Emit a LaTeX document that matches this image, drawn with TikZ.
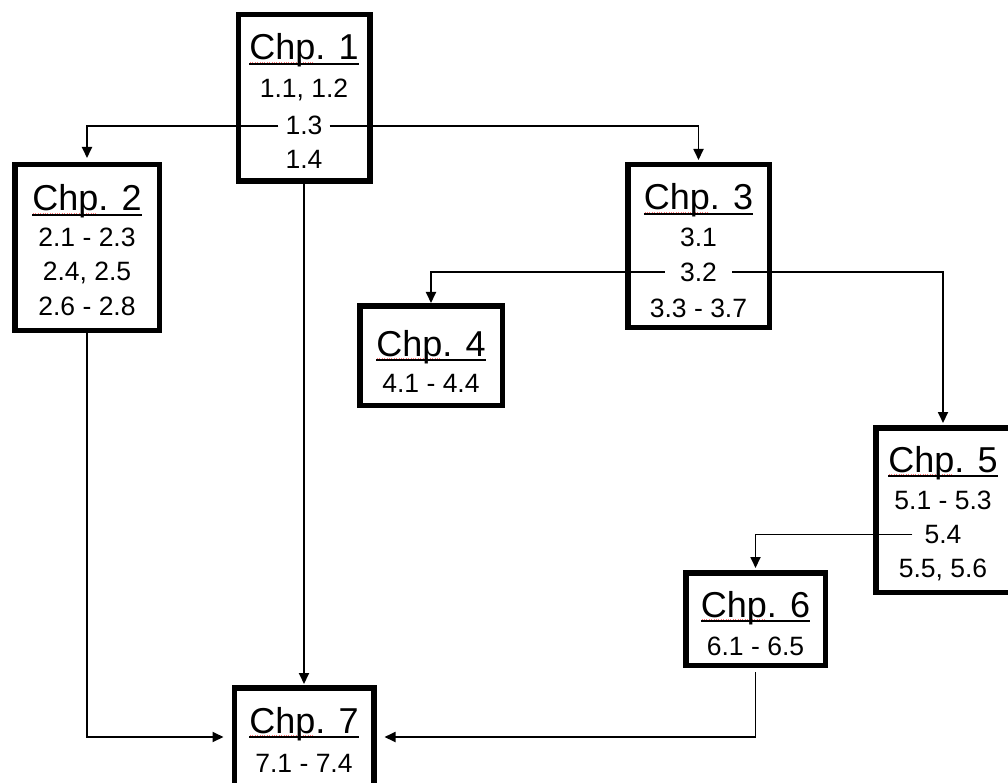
\documentclass[tikz,border=0pt]{standalone}
\usepackage{fontspec}
\setmainfont{Liberation Sans}
\usetikzlibrary{arrows.meta}
\newcommand\chptitle[1]{%
  \setbox0\hbox{Chp. #1}\setbox2\hbox{Chp}%
  \rlap{\rule[-4.8pt]{\wd0}{2.2pt}}%
  \rlap{\raisebox{-2.6pt}{\color{red!55}\leaders\hbox to 2.4pt{\hss\rule{1pt}{0.7pt}\hss}\hskip\wd2}}%
  \box0}
\tikzset{
  chbox/.style={draw, line width=5.5pt, inner sep=0pt, outer sep=2.75pt},
  ttl/.style={anchor=base, inner sep=0pt, font=\fontsize{36}{40}\selectfont},
  sub/.style={anchor=base, inner ysep=0pt, inner xsep=4pt, font=\fontsize{26.5}{30}\selectfont},
  conn/.style={line width=1.8pt, -{Triangle[length=11pt,width=10pt]}},
}
\begin{document}
\begin{tikzpicture}[x=1pt,y=-1pt]
\useasboundingbox (0,0) rectangle (1008,783);
\clip (0,0) rectangle (1008,783);
% boxes
\node[chbox, minimum width=131.5pt, minimum height=166.5pt] (c1) at (304,98) {};
\node[chbox, minimum width=144.5pt, minimum height=165.5pt] (c2) at (87,247.5) {};
\node[chbox, minimum width=141.5pt, minimum height=162.5pt] (c3) at (698.5,246) {};
\node[chbox, minimum width=142.5pt, minimum height=99.5pt] (c4) at (431,355.5) {};
\node[chbox, minimum width=134.5pt, minimum height=164.5pt] (c5) at (943,510) {};
\node[chbox, minimum width=139.5pt, minimum height=92.5pt] (c6) at (755.5,619) {};
\node[chbox, minimum width=139.5pt, minimum height=98.5pt] (c7) at (304,737) {};
% texts
\node[ttl] (t1) at (304,60) {\chptitle{1}};
\node[sub] (s11) at (304,98) {1.1, 1.2};
\node[sub, inner xsep=7pt] (s13) at (304,135) {1.3};
\node[sub] (s14) at (304,169) {1.4};
\node[ttl] (t2) at (87,211) {\chptitle{2}};
\node[sub] (s21) at (87,247) {2.1 - 2.3};
\node[sub] (s24) at (87,281) {2.4, 2.5};
\node[sub] (s26) at (87,316) {2.6 - 2.8};
\node[ttl] (t3) at (698.5,210) {\chptitle{3}};
\node[sub] (s31) at (698.5,247) {3.1};
\node[sub, inner xsep=15pt] (s32) at (698.5,281.5) {3.2};
\node[sub] (s33) at (698.5,317) {3.3 - 3.7};
\node[ttl] (t4) at (431,356) {\chptitle{4}};
\node[sub] (s41) at (431,392) {4.1 - 4.4};
\node[ttl] (t5) at (943,472) {\chptitle{5}};
\node[sub] (s51) at (943,509) {5.1 - 5.3};
\node[sub, inner xsep=12pt] (s54) at (943,543.5) {5.4};
\node[sub] (s55) at (943,577) {5.5, 5.6};
\node[ttl] (t6) at (755.5,617) {\chptitle{6}};
\node[sub] (s61) at (755.5,655) {6.1 - 6.5};
\node[ttl] (t7) at (304,733) {\chptitle{7}};
\node[sub] (s71) at (304,772) {7.1 - 7.4};
% connectors
\draw[conn, shorten >=4pt] (s13) -| (c2);
\draw[conn, shorten >=2pt] (s13) -| (c3);
\draw[conn] (s32) -| (c4);
\draw[conn, shorten >=2pt] (s32) -| (c5);
\draw[conn, shorten >=2pt] (s54) -| (c6);
\draw[conn, shorten >=1pt] (c1) -- (c7);
\draw[conn, shorten >=8pt] (c2) |- (c7);
\draw[conn, shorten >=8pt, shorten <=4pt] (c6) |- (c7);
\end{tikzpicture}
\end{document}
